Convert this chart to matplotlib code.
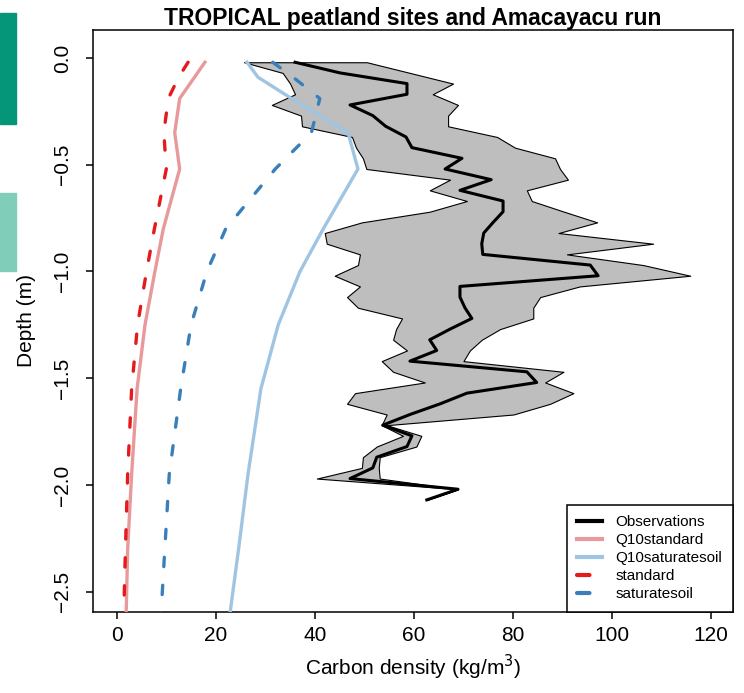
import matplotlib
matplotlib.use("Agg")
import matplotlib.pyplot as plt
from matplotlib.lines import Line2D
from matplotlib.patches import Rectangle

plt.rcParams['font.family'] = ['Liberation Sans', 'DejaVu Sans']

# observed carbon density profile (kg/m3) at each sampled depth (m)
obs_depth = [-0.02, -0.07, -0.12, -0.17, -0.22, -0.27, -0.32, -0.37, -0.42, -0.47,
             -0.52, -0.57, -0.62, -0.67, -0.72, -0.77, -0.82, -0.87, -0.92, -0.97,
             -1.02, -1.07, -1.12, -1.17, -1.22, -1.27, -1.32, -1.37, -1.42, -1.47,
             -1.52, -1.57, -1.62, -1.67, -1.72, -1.77, -1.82, -1.87, -1.92, -1.97,
             -2.02, -2.07]
obs_mean = [36.0, 45.1, 58.6, 58.6, 47.1, 51.7, 54.3, 58.4, 59.6, 69.7,
            66.3, 75.6, 69.3, 78.0, 78.0, 76.0, 74.1, 73.7, 73.9, 95.6,
            97.2, 69.3, 69.3, 70.3, 71.7, 67.3, 63.2, 64.6, 59.2, 82.8,
            84.8, 70.7, 65.3, 59.2, 53.7, 59.6, 58.6, 52.5, 51.7, 47.1,
            68.9, 62.6]
obs_min = [25.7, 33.5, 35.0, 36.0, 31.3, 37.2, 37.4, 47.5, 48.3, 49.7,
           50.4, 67.3, 63.2, 70.7, 63.2, 49.5, 42.0, 42.4, 49.1, 48.7,
           44.0, 49.1, 46.5, 48.7, 57.6, 56.4, 55.8, 58.6, 53.5, 55.8,
           62.2, 48.1, 46.5, 54.5, 53.5, 57.8, 52.5, 49.7, 49.5, 40.4,
           68.9, 62.6]
obs_max = [50.5, 59.2, 67.9, 63.8, 68.9, 66.9, 66.9, 76.8, 80.4, 88.5,
           89.5, 91.1, 82.8, 83.8, 90.3, 97.0, 89.2, 108.3, 90.9, 106.3,
           115.8, 93.5, 85.5, 84.1, 84.1, 77.4, 73.7, 71.3, 70.0, 90.2,
           86.5, 92.2, 87.5, 80.1, 54.5, 61.5, 60.5, 53.1, 52.9, 53.1,
           68.9, 62.6]

# model runs on the soil layer depths
model_depth = [-0.02, -0.09, -0.19, -0.35, -0.52, -0.8, -1.0, -1.25, -1.55, -1.95, -2.3, -2.7]
q10_standard = [17.8, 15.7, 12.7, 11.7, 12.7, 9.4, 7.7, 5.7, 4.1, 3.0, 2.2, 1.8]
q10_saturatesoil = [26.3, 28.5, 35.3, 46.7, 48.7, 41.7, 37.0, 32.6, 29.1, 26.5, 24.6, 22.3]
standard = [14.4, 12.5, 10.4, 9.5, 10.0, 7.6, 6.0, 4.2, 3.0, 2.2, 1.75, 1.3]
saturatesoil = [31.5, 35.6, 41.0, 39.3, 32.0, 22.0, 18.2, 15.0, 12.9, 10.6, 9.7, 8.7]

x_ticks = [0, 20, 40, 60, 80, 100, 120]
y_ticks = [0.0, -0.5, -1.0, -1.5, -2.0, -2.5]

col_q10std = '#E8999B'
col_q10sat = '#9FC5E3'
col_std = '#E41A1C'
col_sat = '#3B7FBA'

fig = plt.figure(figsize=(7.44, 6.93), dpi=100)
ax = fig.add_axes([0.125, 0.1169, 0.86, 0.8398])

# side markers on the page
fig.patches.append(Rectangle((0, 0.8211), 0.0215, 0.160, transform=fig.transFigure,
                             color='#05967A', zorder=0))
fig.patches.append(Rectangle((0, 0.609), 0.0215, 0.1126, transform=fig.transFigure,
                             color='#80CDBA', zorder=0))

# observation range and mean
ax.fill_betweenx(obs_depth, obs_min, obs_max, facecolor='#BEBEBE',
                 edgecolor='black', linewidth=0.8, zorder=1)
ax.plot(obs_mean, obs_depth, color='black', linewidth=2.2, zorder=2)

# model runs
ax.plot(q10_standard, model_depth, color=col_q10std, linewidth=2.4, zorder=3)
ax.plot(q10_saturatesoil, model_depth, color=col_q10sat, linewidth=2.4, zorder=3)
ax.plot(standard, model_depth, color=col_std, linewidth=2.4, zorder=3,
        dashes=(2.8, 5.6), dash_capstyle='round')
ax.plot(saturatesoil, model_depth, color=col_sat, linewidth=2.4, zorder=3,
        dashes=(2.8, 5.6), dash_capstyle='round')

ax.set_xlim(-4.8, 124.4)
ax.set_ylim(-2.595, 0.131)
ax.set_xticks(x_ticks)
ax.set_xticklabels([str(v) for v in x_ticks])
ax.set_yticks(y_ticks)
ax.set_yticklabels([('%.1f' % v).replace('-', '\u2212') for v in y_ticks],
                   rotation=90, va='center')
ax.tick_params(axis='both', labelsize=15, length=5, width=1.1, direction='out')
ax.tick_params(axis='x', pad=5)
ax.tick_params(axis='y', pad=10)
for side in ax.spines:
    ax.spines[side].set_linewidth(1.1)

ax.set_xlabel('Carbon density (kg/m$^3$)', fontsize=15, labelpad=6)
ax.set_ylabel('Depth (m)', fontsize=15, labelpad=12)
ax.set_title('TROPICAL peatland sites and Amacayacu run', fontsize=16.5,
             fontweight='bold', pad=3)

handles = [
    Line2D([], [], color='black', linewidth=3),
    Line2D([], [], color=col_q10std, linewidth=3),
    Line2D([], [], color=col_q10sat, linewidth=3),
    Line2D([], [], color=col_std, linewidth=3, dashes=(3.0, 4.0), dash_capstyle='round'),
    Line2D([], [], color=col_sat, linewidth=3, dashes=(3.0, 4.0), dash_capstyle='round'),
]
labels = ['Observations', 'Q10standard', 'Q10saturatesoil', 'standard', 'saturatesoil']
leg = ax.legend(handles, labels, loc='lower right', bbox_to_anchor=(1, 0),
                borderaxespad=0, fontsize=11, fancybox=False, framealpha=1,
                edgecolor='black', borderpad=0.7, handlelength=1.6,
                handletextpad=0.9, labelspacing=0.26)
leg.get_frame().set_linewidth(1.1)

fig.savefig('out.png', dpi=100)
